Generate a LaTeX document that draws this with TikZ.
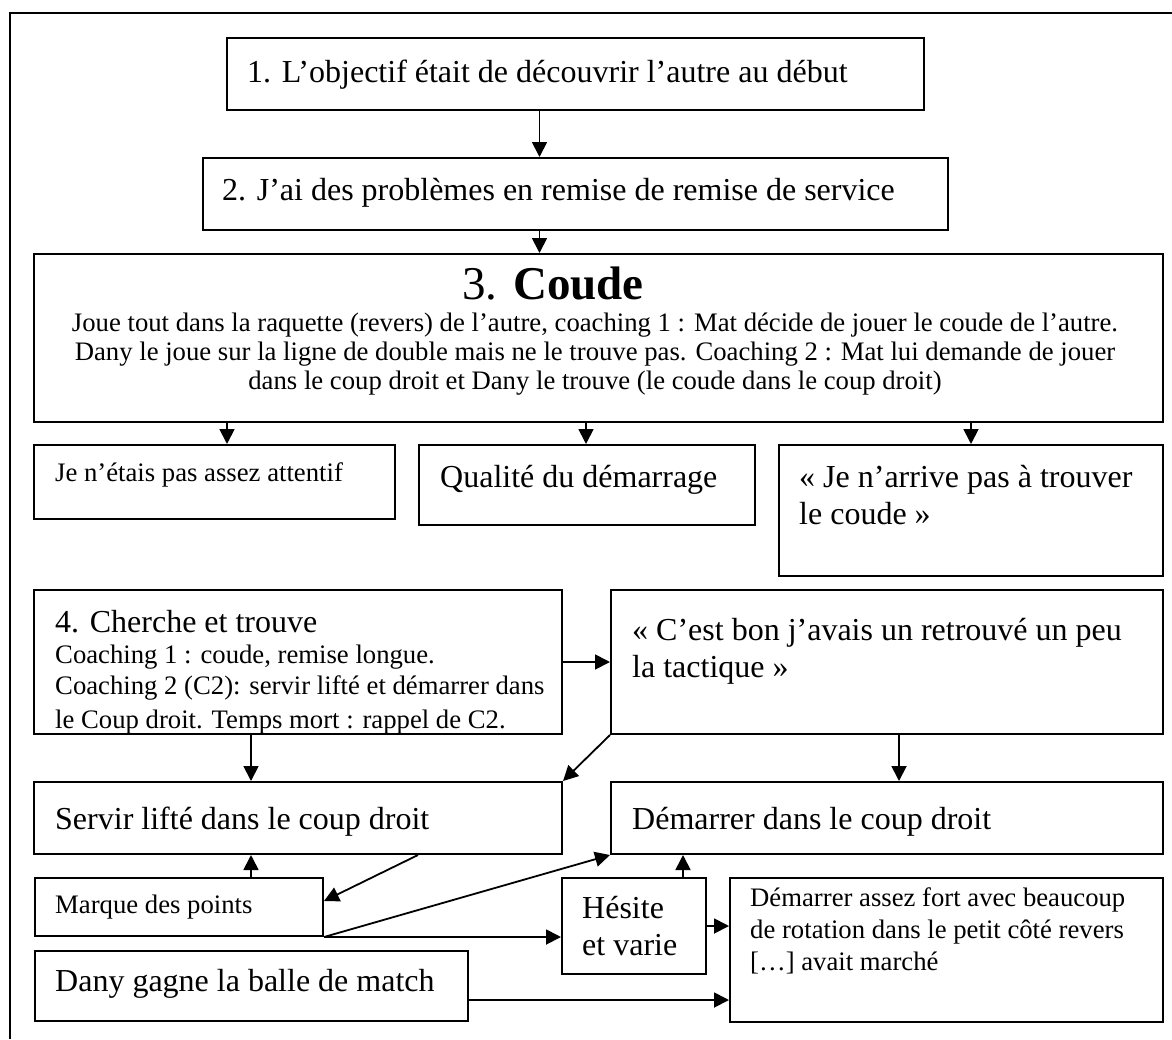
\documentclass[tikz,border=0pt]{standalone}
\usepackage{fontspec}
\setmainfont{Liberation Serif}
\usetikzlibrary{arrows.meta}
\newcommand\fbig{\fontsize{32}{37}\selectfont}
\newcommand\fsmall{\fontsize{26.7}{30.7}\selectfont}
\newcommand\ftitle{\fontsize{47}{54}\selectfont}
\begin{document}
\begin{tikzpicture}[x=1pt,y=-1pt,
  box/.style={draw, line width=2pt, inner sep=0pt, anchor=north west},
  arr/.style={line width=1.8pt, -{Triangle[length=15pt,width=15pt]}},
  lbl/.style={inner sep=0pt, anchor=base west},
  lblc/.style={inner sep=0pt, anchor=base},
]
\fill[white] (0,0) rectangle (1172,1039);
\useasboundingbox (0,0) rectangle (1172,1039);
% page frame (top and left edges)
\draw[line width=2pt] (1172,13) -- (10,13) -- (10,1039);

% boxes
\node[box, minimum width=697pt,  minimum height=72pt]  (b1)   at (226,37)  {};
\node[box, minimum width=745pt,  minimum height=72pt]  (b2)   at (202,157) {};
\node[box, minimum width=1129pt, minimum height=168pt] (b3)   at (33,253)  {};
\node[box, minimum width=361pt,  minimum height=74pt]  (c1)   at (33,444)  {};
\node[box, minimum width=336pt,  minimum height=80pt]  (c2)   at (418,444) {};
\node[box, minimum width=384pt,  minimum height=131pt] (c3)   at (778,444) {};
\node[box, minimum width=528pt,  minimum height=144pt] (b4)   at (33,589)  {};
\node[box, minimum width=552pt,  minimum height=144pt] (tac)  at (610,589) {};
\node[box, minimum width=528pt,  minimum height=72pt]  (serv) at (33,781)  {};
\node[box, minimum width=552pt,  minimum height=72pt]  (dem)  at (610,781) {};
\node[box, minimum width=288pt,  minimum height=58pt]  (marq) at (34,877)  {};
\node[box, minimum width=144pt,  minimum height=96pt]  (hes)  at (561,877) {};
\node[box, minimum width=433pt,  minimum height=144pt] (das)  at (729,877) {};
\node[box, minimum width=433pt,  minimum height=70pt]  (dany) at (34,950)  {};

% texts
\node[lbl, font=\fbig] (t1) at (247,82) {1. L’objectif était de découvrir l’autre au début};
\node[lbl, font=\fbig] (t2) at (222,200) {2. J’ai des problèmes en remise de remise de service};
\node[lblc, font=\ftitle] (t3) at (553,299) {3. \textbf{Coude}};
\node[lblc, font=\fsmall] (t3a) at (595,331) {Joue tout dans la raquette (revers) de l’autre, coaching 1 : Mat décide de jouer le coude de l’autre.};
\node[lblc, font=\fsmall] (t3b) at (595,360) {Dany le joue sur la ligne de double mais ne le trouve pas. Coaching 2 : Mat lui demande de jouer};
\node[lblc, font=\fsmall] (t3c) at (595,389) {dans le coup droit et Dany le trouve (le coude dans le coup droit)};
\node[lbl, font=\fsmall] (tc1) at (55,481) {Je n’étais pas assez attentif};
\node[lbl, font=\fbig] (tc2) at (440,487) {Qualité du démarrage};
\node[lbl, font=\fbig] (tc3a) at (799,487) {« Je n’arrive pas à trouver};
\node[lbl, font=\fbig] (tc3b) at (799,524) {le coude »};
\begin{scope}
  \clip (b4.south west) rectangle (b4.north east);
  \node[lbl, font=\fbig] (t4) at (55,632) {4. Cherche et trouve};
  \node[lbl, font=\fsmall] (t4a) at (55,663) {Coaching 1 : coude, remise longue.};
  \node[lbl, font=\fsmall] (t4b) at (55,694) {Coaching 2 (C2): servir lifté et démarrer dans};
  \node[lbl, font=\fsmall] (t4c) at (55,728) {le Coup droit. Temps mort : rappel de C2.};
\end{scope}
\node[lbl, font=\fbig] (ttaca) at (632,640) {« C’est bon j’avais un retrouvé un peu};
\node[lbl, font=\fbig] (ttacb) at (632,677) {la tactique »};
\node[lbl, font=\fbig] (tserv) at (55,829) {Servir lifté dans le coup droit};
\node[lbl, font=\fbig] (tdem) at (632,829) {Démarrer dans le coup droit};
\node[lbl, font=\fsmall] (tmarq) at (55,913) {Marque des points};
\node[lbl, font=\fbig] (thesa) at (582,918) {Hésite};
\node[lbl, font=\fbig] (thesb) at (582,955) {et varie};
\node[lbl, font=\fsmall] (tdasa) at (750,906) {Démarrer assez fort avec beaucoup};
\node[lbl, font=\fsmall] (tdasb) at (750,938) {de rotation dans le petit côté revers};
\node[lbl, font=\fsmall] (tdasc) at (750,970) {[…] avait marché};
\node[lbl, font=\fbig] (tdany) at (55,991) {Dany gagne la balle de match};

% connectors
\draw[arr] ([xshift=-36pt]b1.south) -- ([xshift=-36pt]b2.north);
\draw[arr] ([xshift=-36pt]b2.south) -- ([xshift=-59pt]b3.north);
\draw[arr] ([xshift=-371.5pt]b3.south) -- ([xshift=12.5pt]c1.north);
\draw[arr] ([xshift=-12.5pt]b3.south) -- ([xshift=-1pt]c2.north);
\draw[arr] ([xshift=372.5pt]b3.south) -- ([xshift=0pt]c3.north);
\draw[arr] (b4.east) -- (tac.west);
\draw[arr] ([xshift=-47pt]b4.south) -- ([xshift=-47pt]serv.north);
\draw[arr] (tac.south west) -- (serv.north east);
\draw[arr] ([xshift=12pt]tac.south) -- ([xshift=12pt]dem.north);
\draw[arr] ([xshift=72pt]marq.north) -- ([xshift=-47pt]serv.south);
\draw[arr] ([xshift=120pt]serv.south) -- ([yshift=6pt]marq.east);
\draw[arr] (marq.south east) -- (dem.south west);
\draw[arr] (marq.south east) -- (marq.south east -| hes.west);
\draw[arr] ([xshift=49pt]hes.north) -- ([xshift=-204pt]dem.south);
\draw[arr] (hes.east) -- (hes.east -| das.west);
\draw[arr] ([yshift=-14pt]dany.east) -- ([yshift=-14pt]dany.east -| das.west);
\end{tikzpicture}
\end{document}
